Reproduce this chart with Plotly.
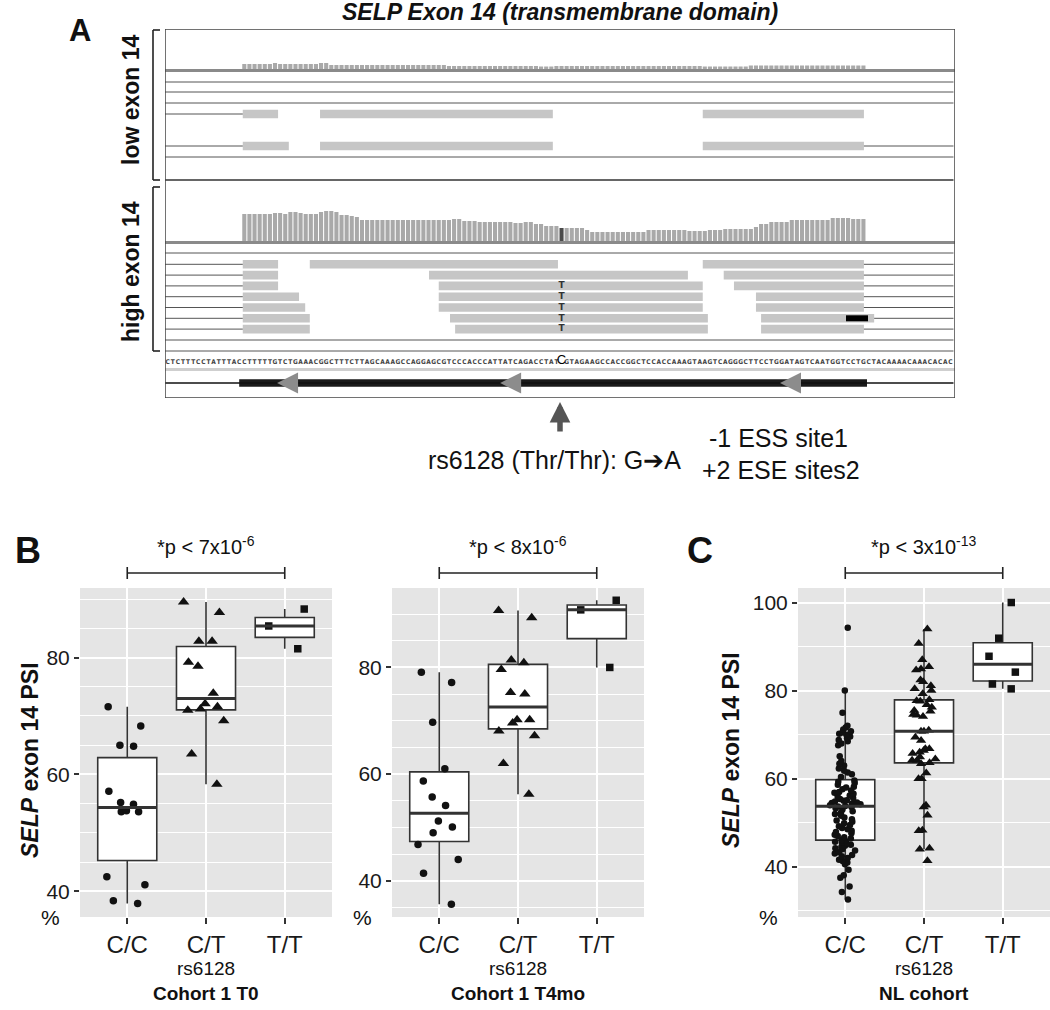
import numpy as np
import plotly.graph_objects as go

W, H = 1050, 1010
FONT = "Liberation Sans, Arial, Helvetica, sans-serif"


def px(x):
    return x / W


def py(y):
    return 1 - y / H


# ------------------------------------------------------------------ data
genotypes = ["C/C", "C/T", "T/T"]

# Cohort 1 T0  (SELP exon 14 PSI, %)
t0_cc = [71.6, 68.3, 65.0, 64.8, 57.1, 54.9, 55.2, 53.6, 53.8, 53.6, 42.5, 41.1, 37.9, 38.4]
t0_ct = [89.5, 87.7, 82.8, 82.8, 78.5, 79.2, 73.9, 71.2, 72.1, 71.0, 71.6, 69.2, 63.5, 58.3]
t0_tt = [88.3, 85.4, 81.5]

# Cohort 1 T4mo
t4_cc = [79.1, 77.2, 69.7, 61.0, 58.7, 55.7, 54.1, 51.2, 50.1, 49.0, 46.8, 44.0, 41.4, 35.6]
t4_ct = [89.3, 90.7, 80.9, 81.4, 79.6, 75.0, 75.3, 70.2, 69.6, 70.2, 68.1, 67.2, 62.0, 56.2]
t4_tt = [92.6, 90.8, 80.0]

# NL cohort
nl_cc = [94.3, 80.0, 75.0, 72.0, 71.6, 71.2, 70.8, 70.5, 70.2, 70.0,
         69.6, 69.2, 68.8, 68.5, 68.0, 67.6, 65.1, 64.0, 63.4, 63.0,
         62.3, 61.8, 61.4, 61.0, 60.4,
         59.6, 59.3, 59.0, 58.6, 58.2, 58.0, 57.6, 57.3, 57.0, 56.8,
         56.6, 56.2, 55.9, 55.6, 55.4, 55.1, 55.0, 54.8, 54.6, 54.5,
         54.3, 54.2, 54.0, 53.9, 53.8,
         53.7, 53.6, 53.3, 53.0, 52.6, 52.3, 52.0, 51.6, 51.2, 50.8,
         50.5, 50.2, 49.9, 49.5, 49.2, 48.8, 48.5, 48.2, 47.9, 47.6,
         47.3, 47.0, 46.7, 46.4, 46.1,
         45.9, 45.7, 45.5, 45.3, 45.0, 44.8, 44.5, 44.2, 44.0, 43.7,
         43.3, 43.0, 42.7, 42.4, 42.0, 41.6, 41.3, 41.0, 40.6, 39.3,
         38.1, 37.5, 35.5, 34.3, 32.6]
nl_ct = [90.7, 94.0, 87.0, 84.7, 84.9, 85.4, 82.4, 82.0, 81.1, 80.4,
         79.3, 80.0, 77.7, 77.9, 77.6, 76.2, 76.8, 74.4, 74.6, 75.5,
         75.3, 74.1, 70.8, 70.8, 71.0, 69.4, 68.7, 66.8, 66.4, 66.8,
         66.0, 65.7, 64.9, 64.2, 64.5, 64.2, 63.4, 63.6, 60.0, 60.0,
         61.3, 54.0, 53.6, 51.7, 48.3, 48.2, 44.2, 44.0, 41.4]
nl_tt = [100.0, 91.9, 87.8, 84.2, 81.5, 80.4]

p_t0 = "7x10<sup>-6</sup>"
p_t4 = "8x10<sup>-6</sup>"
p_nl = "3x10<sup>-13</sup>"

# ---- IGV-like track (positions in bp from window start) ----
sequence = ("CTCTTTCCTATTTACCTTTTTGTCTGAAACGGCTTTCTTAGCAAAGCCAGGAGCGTCCCACCCATTATCAGACCTAT"
            "C"
            "GTAGAAGCCACCGGCTCCACCAAAGTAAGTCAGGGCTTCCTGGATAGTCAATGGTCCTGCTACAAAACAAACACAC")
snp_bp = 77
exon_start, exon_end = 15, 137
cds_start, cds_end = 14.5, 137.2

high_cov = [27, 27, 27, 27, 27, 27, 28, 28, 27, 29,
            29, 28, 27, 27, 27, 29, 30, 30, 29, 26,
            26, 25, 24, 21, 21, 21, 21, 21, 21, 21,
            21, 21, 21, 21, 21, 21, 21, 21, 21, 21,
            21, 22, 22, 20, 20, 20, 19, 19, 19, 19,
            19, 19, 19, 18, 18, 19, 19, 17, 17, 15,
            15, 15, 13, 13, 13, 13, 13, 11, 9, 9,
            9, 9, 9, 9, 9, 9, 9, 9, 9, 11,
            11, 11, 11, 11, 11, 11, 11, 10, 10, 10,
            10, 11, 11, 11, 12, 12, 12, 12, 12, 12,
            14, 17, 17, 19, 19, 19, 19, 21, 21, 21,
            21, 21, 21, 21, 21, 23, 23, 23, 23, 22,
            22, 22]
low_cov = [5, 5, 5, 5, 5, 5, 6, 5, 5, 5,
           5, 5, 5, 5, 5, 6, 6, 4, 4, 4,
           4, 4, 4, 4, 4, 4, 4, 4, 4, 4,
           4, 4, 4, 4, 4, 4, 4, 4, 4, 4,
           3, 3, 3, 3, 3, 3, 3, 3, 3, 3,
           3, 3, 3, 3, 3, 3, 3, 3, 2.5, 2.5,
           2.5, 3, 3, 3, 3, 3, 3, 3, 3, 3,
           3, 3, 3, 3, 3, 3, 3, 3, 3, 3,
           3, 3, 3, 3, 3, 3, 3, 3, 3, 3,
           2.5, 2.5, 2.5, 2.5, 2.5, 2.5, 2.5, 2.5, 2.5, 3.5,
           3.5, 3.5, 3.5, 3.5, 3.5, 3.5, 3.5, 3.5, 3.5, 3.5,
           3.5, 3.5, 3.5, 3.5, 3.5, 3.5, 3.5, 3.5, 3.5, 3.5,
           3.5, 3.5]

low_reads = [[(15.2, 22.1), (30.3, 75.8), (105.1, 136.6)],
             [(15.2, 24.2), (30.3, 75.8), (105.1, 136.6)]]
low_right_link = [False, True]
high_reads = [[(15.2, 22.1), (28.3, 76.8), (105.1, 136.6)],
              [(15.2, 22.1), (51.6, 102.2), (109.2, 136.6)],
              [(15.2, 22.1), (53.5, 105.1), (111.2, 136.6)],
              [(15.2, 26.2), (53.5, 105.1), (115.5, 136.6)],
              [(15.2, 27.4), (53.5, 105.1), (115.5, 136.6)],
              [(15.2, 28.3), (55.7, 106.1), (116.5, 138.6)],
              [(15.2, 28.3), (56.7, 106.1), (116.5, 136.6)]]
high_alt_rows = [2, 3, 4, 5, 6]          # reads carrying T at rs6128
mismatch_block = (5, 133.1, 137.4)       # row, start, end
strand_arrows_bp = [21.9, 65.5, 120.2]

# ------------------------------------------------------------------ figure
fig = go.Figure()
shapes, annotations = [], []

# ---------------- top (IGV) panel on x4/y4 : y in screen px units
XMAX = 154.4
LOW_BASE, HIGH_BASE = 69, 241
low_rows_y = [114, 146]
high_rows_y = [264.3 + 10.8 * i for i in range(len(high_reads))]
SEQ_Y, GENE_Y = 362, 383
TA = dict(xaxis="x4", yaxis="y4", showlegend=False, hoverinfo="skip")

cov_x = [bp + 0.5 for bp in range(exon_start, exon_end)]
fig.add_trace(go.Bar(x=cov_x, y=[-v for v in low_cov], base=LOW_BASE, width=0.8,
                     marker=dict(color="#A9A9A9", line=dict(width=0)), **TA))
fig.add_trace(go.Bar(x=cov_x, y=[-v for v in high_cov], base=HIGH_BASE, width=0.8,
                     marker=dict(color=["#4A4A4A" if bp == snp_bp else "#A9A9A9"
                                        for bp in range(exon_start, exon_end)],
                                 line=dict(width=0)), **TA))


def hlines(ys, x0=0.0, x1=XMAX - 0.3):
    xs, yy = [], []
    for y in ys:
        xs += [x0, x1, None]
        yy += [y, y, None]
    return xs, yy


# coverage baselines
xs, yy = hlines([LOW_BASE + 1.5, HIGH_BASE + 1.5], 0, XMAX)
fig.add_trace(go.Scatter(x=xs, y=yy, mode="lines", line=dict(color="#8A8A8A", width=3), **TA))
# separators
xs, yy = hlines([82, 92, 103, 157, 253, 340, 351])
fig.add_trace(go.Scatter(x=xs, y=yy, mode="lines", line=dict(color="#555", width=1), **TA))
xs, yy = hlines([180])
fig.add_trace(go.Scatter(x=xs, y=yy, mode="lines", line=dict(color="#333", width=1.5), **TA))
xs, yy = hlines([369.5], 0, XMAX)
fig.add_trace(go.Scatter(x=xs, y=yy, mode="lines", line=dict(color="#CFCFCF", width=3), **TA))

# read link lines
lx, ly = [], []
for reads, rows, rlink in [(low_reads, low_rows_y, low_right_link),
                           (high_reads, high_rows_y, [True] * len(high_reads))]:
    for r, y, rl in zip(reads, rows, rlink):
        lx += [0, r[0][0], None]
        ly += [y, y, None]
        if rl:
            lx += [r[-1][1], XMAX - 0.3, None]
            ly += [y, y, None]
fig.add_trace(go.Scatter(x=lx, y=ly, mode="lines", line=dict(color="#555", width=1), **TA))

# read blocks
bx, bb, by = [], [], []
for reads, rows in [(low_reads, low_rows_y), (high_reads, high_rows_y)]:
    for r, y in zip(reads, rows):
        for s, e in r:
            bx.append(e - s)
            bb.append(s)
            by.append(y)
fig.add_trace(go.Bar(orientation="h", x=bx, base=bb, y=by, width=8.6,
                     marker=dict(color="#C6C6C6", line=dict(width=0)), **TA))
mr, ms, me = mismatch_block
fig.add_trace(go.Bar(orientation="h", x=[me - ms], base=[ms], y=[high_rows_y[mr]], width=6,
                     marker=dict(color="#000000", line=dict(width=0)), **TA))
fig.add_trace(go.Scatter(x=[snp_bp + 0.5] * len(high_alt_rows),
                         y=[high_rows_y[i] for i in high_alt_rows], mode="text",
                         text=["T"] * len(high_alt_rows),
                         textfont=dict(family="DejaVu Sans", size=9, color="#333", weight="bold"),
                         cliponaxis=False, **TA))

# sequence
seq_idx = [i for i in range(len(sequence)) if i != snp_bp]
fig.add_trace(go.Scatter(x=[i + 0.5 for i in seq_idx], y=[SEQ_Y] * len(seq_idx), mode="text",
                         text=[sequence[i] for i in seq_idx],
                         textfont=dict(family="DejaVu Sans Condensed, DejaVu Sans", size=6.5,
                                       color="#444", weight="bold"),
                         cliponaxis=False, **TA))
fig.add_trace(go.Scatter(x=[snp_bp + 0.5], y=[SEQ_Y - 1], mode="text", text=[sequence[snp_bp]],
                         textfont=dict(family=FONT, size=13, color="#000"), cliponaxis=False, **TA))

# gene model
fig.add_trace(go.Scatter(x=[0, XMAX - 0.3], y=[GENE_Y, GENE_Y], mode="lines",
                         line=dict(color="#111", width=1.5), **TA))
fig.add_trace(go.Bar(orientation="h", x=[cds_end - cds_start], base=[cds_start], y=[GENE_Y],
                     width=7.5, marker=dict(color="#1A1A1A", line=dict(width=0)), **TA))
fig.add_trace(go.Scatter(x=strand_arrows_bp, y=[GENE_Y] * len(strand_arrows_bp), mode="markers",
                         marker=dict(symbol="arrow-left", size=21, color="#8C8C8C",
                                     line=dict(width=0)), cliponaxis=False, **TA))

shapes.append(dict(type="rect", xref="x4", yref="y4", x0=0, x1=XMAX, y0=29, y1=398,
                   line=dict(color="#444", width=1.5), fillcolor="rgba(0,0,0,0)", layer="above"))


def seg(x0, y0, x1, y1, color="#222", width=1.6):
    return dict(type="line", xref="paper", yref="paper", x0=px(x0), y0=py(y0),
                x1=px(x1), y1=py(y1), line=dict(color=color, width=width))


# brackets for low / high groups
for y0, y1 in [(30, 180), (187, 351)]:
    shapes += [seg(153, y0, 153, y1), seg(153, y0, 160, y0), seg(153, y1, 160, y1)]


def ann(text, x, y, size, angle=0, xanchor="center", color="#111", xref="paper"):
    annotations.append(dict(text=text, x=x, y=y, xref=xref, yref="paper", showarrow=False,
                            textangle=angle, xanchor=xanchor, yanchor="middle",
                            font=dict(size=size, color=color, family=FONT)))


ann("<b>A</b>", px(80), py(30), 31)
ann("<b><i>SELP Exon 14 (transmembrane domain)</i></b>", px(560), py(12), 23)
ann("<b>low exon 14</b>", px(131), py(100), 23, angle=-90)
ann("<b>high exon 14</b>", px(131), py(272), 23, angle=-90)
ann("rs6128 (Thr/Thr): G\u2794A", px(426), py(460), 25, xanchor="left")
ann("-1 ESS site1", px(778), py(438), 25)
ann("+2 ESE sites2", px(781), py(470), 25)
annotations.append(dict(text="", x=px(560), y=py(402), ax=0, ay=31,
                        xref="paper", yref="paper", axref="pixel", ayref="pixel",
                        showarrow=True, arrowhead=2, arrowsize=0.75, arrowwidth=5.5,
                        arrowcolor="#555"))

# ---------------- panels B and C
def box_stats(v):
    a = np.asarray(v, dtype=float)
    q1, med, q3 = np.percentile(a, [25, 50, 75])
    iqr = q3 - q1
    lo = a[a >= q1 - 1.5 * iqr].min()
    hi = a[a <= q3 + 1.5 * iqr].max()
    return q1, med, q3, lo, hi


panels = [
    dict(xa="x", ya="y", xd=(80, 332), groups=(t0_cc, t0_ct, t0_tt), yr=[35.6, 91.9],
         tv=[40, 60, 80], minor=5, sizes=(7.5, 10, 7.5), jit=0.85, p=p_t0, cohort="Cohort 1 T0"),
    dict(xa="x2", ya="y2", xd=(392, 644), groups=(t4_cc, t4_ct, t4_tt), yr=[33.2, 94.9],
         tv=[40, 60, 80], minor=5, sizes=(7.5, 10, 7.5), jit=0.85, p=p_t4, cohort="Cohort 1 T4mo"),
    dict(xa="x3", ya="y3", xd=(798, 1050), groups=(nl_cc, nl_ct, nl_tt), yr=[28.6, 103.3],
         tv=[40, 60, 80, 100], minor=10, sizes=(6.5, 9, 7.5), jit=0.55, p=p_nl, cohort="NL cohort"),
]
symbols = ["circle", "triangle-up", "square"]
PLOT_TOP, PLOT_BOTTOM = 588, 917
axes_layout = {}

for k, pn in enumerate(panels):
    xa, ya = pn["xa"], pn["ya"]
    for i, vals in enumerate(pn["groups"]):
        pos = i + 1
        q1, med, q3, lo, hi = box_stats(vals)
        fig.add_trace(go.Box(x=[pos], q1=[q1], median=[med], q3=[q3], lowerfence=[lo],
                             upperfence=[hi], width=0.75, whiskerwidth=0, boxpoints=False,
                             fillcolor="white", line=dict(color="#333", width=1.6),
                             xaxis=xa, yaxis=ya, showlegend=False, hoverinfo="skip"))
        fig.add_trace(go.Scatter(x=[pos - 0.375, pos + 0.375], y=[med, med], mode="lines",
                                 line=dict(color="#333", width=3), xaxis=xa, yaxis=ya,
                                 showlegend=False, hoverinfo="skip"))
    for i, vals in enumerate(pn["groups"]):
        pos = i + 1
        fig.add_trace(go.Box(x=[pos] * len(vals), y=vals, boxpoints="all", jitter=pn["jit"],
                             pointpos=0, width=0.75, fillcolor="rgba(0,0,0,0)",
                             line=dict(color="rgba(0,0,0,0)", width=0),
                             marker=dict(symbol=symbols[i], size=pn["sizes"][i], color="#111",
                                         line=dict(width=0)),
                             xaxis=xa, yaxis=ya, showlegend=False, hoverinfo="skip"))

    xname = "xaxis" + xa[1:]
    yname = "yaxis" + ya[1:]
    axes_layout[xname] = dict(domain=[px(pn["xd"][0]), px(pn["xd"][1])], range=[0.4, 3.6],
                              tickmode="array", tickvals=[1, 2, 3], ticktext=genotypes,
                              ticks="outside", ticklen=6, tickwidth=1.5, tickcolor="#333",
                              showgrid=True, gridcolor="white", gridwidth=1.6,
                              zeroline=False, showline=False, anchor=ya,
                              tickfont=dict(size=24, color="#1a1a1a", family=FONT))
    axes_layout[yname] = dict(domain=[py(PLOT_BOTTOM), py(PLOT_TOP)], range=pn["yr"],
                              tickmode="array", tickvals=pn["tv"], ticks="outside", ticklen=5,
                              tickwidth=1.5, tickcolor="#333", showgrid=True,
                              gridcolor="white", gridwidth=1.6, zeroline=False,
                              showline=False, anchor=xa,
                              minor=dict(tickmode="linear", tick0=0, dtick=pn["minor"],
                                         showgrid=True, gridcolor="white", gridwidth=1.3),
                              tickfont=dict(size=21, color="#1a1a1a", family=FONT))
    shapes.append(dict(type="rect", xref=xa + " domain", yref=ya + " domain", x0=0, x1=1,
                       y0=0, y1=1, fillcolor="#E5E5E5", line=dict(width=0), layer="below"))
    # significance bracket
    for s in [dict(x0=1, x1=3, y0=py(573), y1=py(573)),
              dict(x0=1, x1=1, y0=py(567), y1=py(579)),
              dict(x0=3, x1=3, y0=py(567), y1=py(579))]:
        shapes.append(dict(type="line", xref=xa, yref="paper", line=dict(color="#222", width=1.6), **s))
    ann("*p < " + pn["p"], 2, py(545), 20, xref=xa)
    ann("rs6128", 2, py(968), 19, xref=xa)
    ann("<b>" + pn["cohort"] + "</b>", 2, py(993), 19, xref=xa)
    ann("%", px(pn["xd"][0] - 30), py(917), 21)

ann("<b>B</b>", px(28), py(550), 36)
ann("<b>C</b>", px(700), py(550), 36)
ann("<b><i>SELP</i> exon 14 PSI</b>", px(30), py(760), 23, angle=-90)
ann("<b><i>SELP</i> exon 14 PSI</b>", px(731), py(750), 23, angle=-90)

axes_layout["xaxis4"] = dict(domain=[px(165), px(955)], range=[0, XMAX], visible=False,
                             anchor="y4", fixedrange=True)
axes_layout["yaxis4"] = dict(domain=[py(398), py(29)], range=[398, 29], visible=False,
                             anchor="x4", fixedrange=True)

fig.update_layout(width=W, height=H, margin=dict(l=0, r=0, t=0, b=0),
                  paper_bgcolor="white", plot_bgcolor="rgba(0,0,0,0)",
                  showlegend=False, barmode="overlay", boxmode="overlay",
                  font=dict(family=FONT, color="#1a1a1a"),
                  shapes=shapes, annotations=annotations, **axes_layout)

fig.write_html("out.html", config={"displayModeBar": False},
               post_script="document.body.style.margin='0px';document.body.style.overflow='hidden';")
